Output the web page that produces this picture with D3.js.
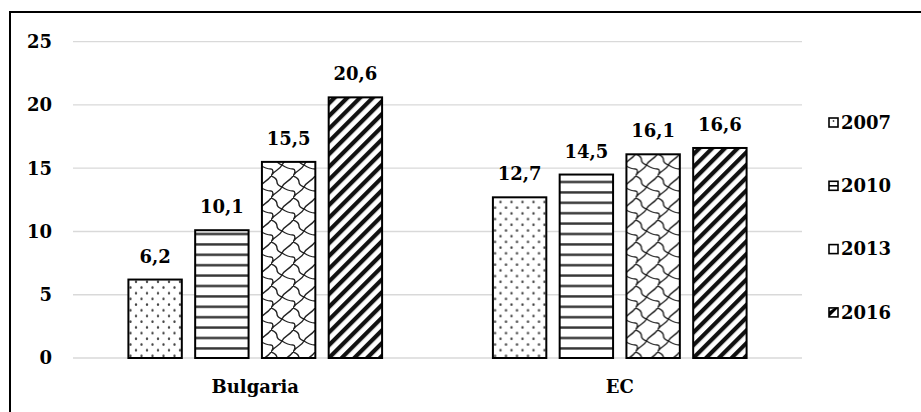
<!DOCTYPE html>
<html>
<head>
<meta charset="utf-8">
<script src="https://cdn.jsdelivr.net/npm/d3@7"></script>
<style>
  body { margin: 0; background: #fff; }
  svg text { font-family: "DejaVu Serif"; font-weight: 700; }
</style>
</head>
<body>
<script>
// ================= Data ======================
const categories = ["Bulgaria", "EC"];
const years = ["2007", "2010", "2013", "2016"];
const bulgariaValues = [6.2, 10.1, 15.5, 20.6];
const ecValues = [12.7, 14.5, 16.1, 16.6];
const yTicks = [0, 5, 10, 15, 20, 25];

const rows = [
  {cat: "Bulgaria", values: bulgariaValues},
  {cat: "EC", values: ecValues}
];

// ================== LAYOUT ===========================
const W = 921, H = 412;
const svg = d3.select("body").append("svg")
  .attr("width", W).attr("height", H);

// outer frame
svg.append("rect")
  .attr("x", 10).attr("y", 12)
  .attr("width", 940).attr("height", 440)
  .attr("fill", "none").attr("stroke", "#000").attr("stroke-width", 2);

const plot = {left: 73, right: 802, top: 41.7, bottom: 358};
const fs = 18;

// ================== PATTERNS ===========================
const defs = svg.append("defs");

// dots (2007)
let p = defs.append("pattern").attr("id", "pat2007")
  .attr("patternUnits", "userSpaceOnUse").attr("width", 11).attr("height", 11.4);
p.append("rect").attr("width", 11).attr("height", 11.4).attr("fill", "#fff");
p.append("circle").attr("cx", 2.5).attr("cy", 2.5).attr("r", 1.2).attr("fill", "#444");
p.append("circle").attr("cx", 8).attr("cy", 8.2).attr("r", 1.2).attr("fill", "#444");

// horizontal lines (2010)
p = defs.append("pattern").attr("id", "pat2010")
  .attr("patternUnits", "userSpaceOnUse").attr("width", 10).attr("height", 10.4);
p.append("rect").attr("width", 10).attr("height", 10.4).attr("fill", "#fff");
p.append("rect").attr("y", 4).attr("width", 10).attr("height", 2.4).attr("fill", "#333");

// shingle (2013)
p = defs.append("pattern").attr("id", "pat2013")
  .attr("patternUnits", "userSpaceOnUse").attr("width", 22).attr("height", 22);
p.append("rect").attr("width", 22).attr("height", 22).attr("fill", "#fff");
p.append("path")
  .attr("d", "M0,22 C3,16 8,17 11,11 C14,5 18,6 22,0 M11,11 C14,13 18,15 22,15 M0,15 C2,15 3,18 0,22 M0,0 C3,1 6,3 6,6 C6,8 8,10 11,11")
  .attr("fill", "none").attr("stroke", "#222").attr("stroke-width", 1.4);

// wide upward diagonal (2016)
p = defs.append("pattern").attr("id", "pat2016")
  .attr("patternUnits", "userSpaceOnUse").attr("width", 9).attr("height", 9)
  .attr("patternTransform", "rotate(45)");
p.append("rect").attr("width", 9).attr("height", 9).attr("fill", "#fff");
p.append("rect").attr("x", 0).attr("width", 4.2).attr("height", 9).attr("fill", "#111");

// ===================== SCALES =======================
const yScale = d3.scaleLinear().domain([0, 25]).range([plot.bottom, plot.top]);
const xScale = d3.scaleBand().domain(categories).range([plot.left, plot.right]);
const xInner = d3.scaleBand().domain(years).range([0, xScale.bandwidth()])
  .paddingInner(0.2).paddingOuter(0.83);

// ===================== GRID + Y AXIS =======================
svg.append("g").selectAll("line").data(yTicks).join("line")
  .attr("x1", plot.left).attr("x2", plot.right)
  .attr("y1", d => yScale(d)).attr("y2", d => yScale(d))
  .attr("stroke", "#d9d9d9").attr("stroke-width", 1.3);

svg.append("g").selectAll("text").data(yTicks).join("text")
  .attr("x", 52).attr("y", d => yScale(d))
  .attr("dy", "0.35em")
  .attr("text-anchor", "end")
  .attr("font-size", fs)
  .text(d => d);

// ==================== BARS ===========================
const groups = svg.append("g").selectAll("g").data(rows).join("g")
  .attr("transform", d => `translate(${xScale(d.cat)},0)`);

groups.selectAll("rect")
  .data(d => d.values.map((v, i) => ({year: years[i], value: v})))
  .join("rect")
  .attr("x", d => xInner(d.year))
  .attr("y", d => yScale(d.value))
  .attr("width", xInner.bandwidth())
  .attr("height", d => yScale(0) - yScale(d.value))
  .attr("fill", d => `url(#pat${d.year})`)
  .attr("stroke", "#000").attr("stroke-width", 2);

groups.selectAll("text.val")
  .data(d => d.values.map((v, i) => ({year: years[i], value: v})))
  .join("text")
  .attr("class", "val")
  .attr("x", d => xInner(d.year) + xInner.bandwidth() / 2)
  .attr("y", d => yScale(d.value) - 17)
  .attr("text-anchor", "middle")
  .attr("font-size", fs)
  .text(d => String(d.value).replace(".", ","));

// category labels
svg.append("g").selectAll("text").data(categories).join("text")
  .attr("x", d => xScale(d) + xScale.bandwidth() / 2)
  .attr("y", 393)
  .attr("text-anchor", "middle")
  .attr("font-size", fs)
  .text(d => d);

// ==================== LEGEND ===========================
const legend = svg.append("g").selectAll("g").data(years).join("g")
  .attr("transform", (d, i) => `translate(829, ${122.5 + i * 63.3})`);

legend.append("rect")
  .attr("x", 0).attr("y", -4.5)
  .attr("width", 9).attr("height", 9)
  .attr("fill", "#fff")
  .attr("stroke", "#000").attr("stroke-width", 1.6);

// small swatch marks, one per pattern
legend.filter(d => d === "2007").append("circle")
  .attr("cx", 4.5).attr("cy", -1.5).attr("r", 0.9).attr("fill", "#444");
legend.filter(d => d === "2010").append("line")
  .attr("x1", 0).attr("x2", 9).attr("y1", 0).attr("y2", 0)
  .attr("stroke", "#000").attr("stroke-width", 1.6);
legend.filter(d => d === "2016").append("path")
  .attr("d", "M0,4.5 L0,-1 L5.5,-4.5 L9,-4.5 Z")
  .attr("fill", "#000");

legend.append("text")
  .attr("x", 12).attr("y", 0).attr("dy", "0.35em")
  .attr("font-size", fs)
  .text(d => d);
</script>
</body>
</html>
